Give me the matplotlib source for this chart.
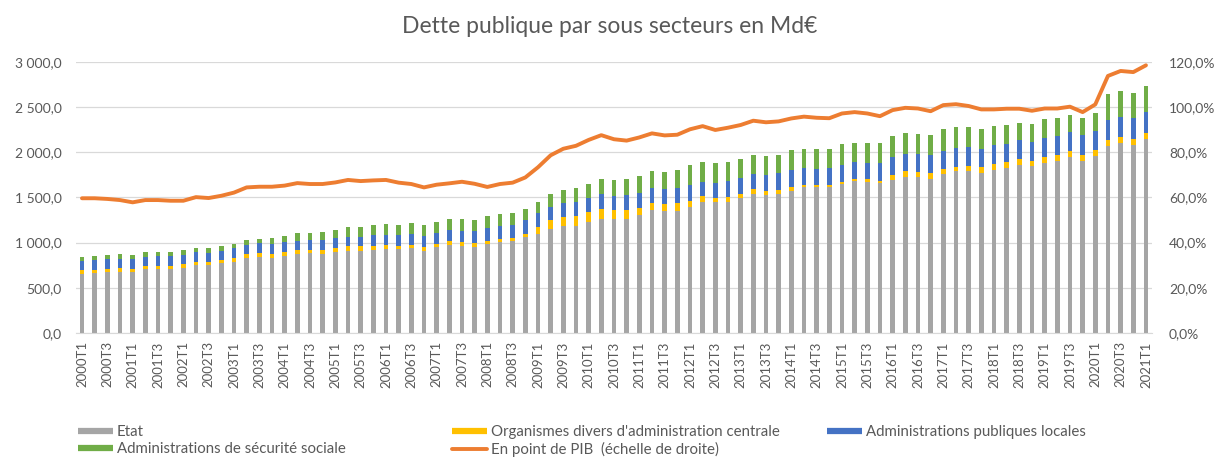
import numpy as np
import matplotlib
matplotlib.use("Agg")
import matplotlib.pyplot as plt
from matplotlib.lines import Line2D
from matplotlib.ticker import FuncFormatter

plt.rcParams['font.family'] = ['Lato', 'DejaVu Sans']

# Trimestres 2000T1 -> 2021T1
trimestres = [f"{a}T{q}" for a in range(2000, 2022) for q in range(1, 5)][:85]

# Dette en Md€ par sous secteur (lecture du graphique)
etat = [656, 664, 678, 678, 678, 704, 704, 704, 723, 752,
        752, 771, 789, 826, 837, 826, 855, 874, 885, 877,
        892, 911, 911, 922, 929, 929, 940, 907, 948, 973,
        966, 948, 984, 1003, 1014, 1058, 1099, 1150, 1184, 1184,
        1228, 1265, 1257, 1257, 1305, 1361, 1349, 1349, 1397, 1453,
        1445, 1453, 1493, 1537, 1526, 1537, 1574, 1615, 1615, 1616,
        1652, 1685, 1674, 1663, 1696, 1722, 1722, 1703, 1759, 1788,
        1788, 1770, 1807, 1825, 1862, 1844, 1881, 1907, 1947, 1907,
        1955, 2069, 2106, 2084, 2150]
odac = [41, 37, 34, 39, 34, 37, 42, 42, 37, 37,
        34, 37, 42, 46, 44, 46, 46, 42, 36, 42,
        46, 46, 46, 36, 40, 35, 34, 40, 37, 40,
        38, 46, 37, 37, 38, 41, 74, 103, 103, 112,
        113, 110, 104, 103, 82, 77, 78, 86, 67, 59,
        53, 54, 46, 50, 42, 44, 43, 27, 22, 18,
        21, 19, 28, 19, 55, 66, 56, 62, 56, 53,
        62, 63, 66, 63, 57, 63, 66, 60, 66, 66,
        66, 63, 63, 66, 64]
apul = [100, 106, 109, 104, 106, 104, 107, 107, 107, 104,
        104, 104, 106, 105, 110, 115, 106, 106, 112, 111,
        113, 109, 110, 121, 118, 117, 116, 130, 125, 123,
        126, 138, 142, 138, 143, 152, 150, 145, 146, 157,
        156, 164, 154, 161, 164, 160, 161, 168, 168, 161,
        158, 172, 178, 170, 180, 183, 186, 181, 179, 188,
        188, 187, 180, 198, 199, 190, 199, 200, 202, 203,
        203, 201, 206, 201, 210, 210, 205, 207, 205, 216,
        218, 218, 219, 228, 233]
asso = [48, 45, 45, 50, 45, 48, 48, 48, 46, 51,
        51, 49, 49, 55, 53, 62, 64, 86, 78, 91,
        93, 101, 109, 113, 117, 112, 123, 116, 119, 128,
        134, 114, 132, 139, 137, 117, 129, 140, 144, 150,
        155, 169, 176, 178, 190, 194, 195, 197, 222, 220,
        222, 208, 207, 213, 210, 205, 217, 215, 219, 214,
        231, 215, 224, 225, 229, 232, 226, 226, 238, 233,
        224, 225, 206, 216, 198, 198, 210, 198, 197, 188,
        196, 294, 285, 272, 287]
# Dette en point de PIB (%)
pib = [59.6, 59.6, 59.3, 58.8, 57.8, 58.8, 58.8, 58.5, 58.5, 60.1,
       59.7, 60.7, 62.1, 64.4, 64.7, 64.7, 65.2, 66.3, 65.9, 65.9,
       66.6, 67.7, 67.2, 67.5, 67.7, 66.5, 65.9, 64.4, 65.6, 66.2,
       66.9, 66.0, 64.6, 65.9, 66.5, 68.8, 73.3, 78.6, 81.5, 82.8,
       85.4, 87.5, 85.7, 85.1, 86.5, 88.3, 87.4, 87.7, 90.1, 91.5,
       89.8, 90.8, 92.0, 93.9, 93.2, 93.6, 94.9, 95.7, 95.2, 95.0,
       97.1, 97.7, 97.1, 95.9, 98.6, 99.6, 99.3, 98.1, 100.8, 101.2,
       100.4, 98.9, 98.9, 99.2, 99.2, 98.3, 99.3, 99.3, 100.1, 97.7,
       101.1, 113.7, 115.9, 115.4, 118.4]

c_etat = '#A5A5A5'
c_odac = '#FFC000'
c_apul = '#4472C4'
c_asso = '#70AD47'
c_pib = '#ED7D31'
c_txt = '#595959'
c_grid = '#D9D9D9'

fig = plt.figure(figsize=(12.2, 4.57), dpi=100)
ax = fig.add_axes([0.062, 0.2713, 0.8825, 0.5937])

x = np.arange(len(trimestres))
w = 0.37
etat = np.array(etat)
odac = np.array(odac)
apul = np.array(apul)
asso = np.array(asso)
ax.bar(x, etat, w, color=c_etat, zorder=2)
ax.bar(x, odac, w, bottom=etat, color=c_odac, zorder=2)
ax.bar(x, apul, w, bottom=etat + odac, color=c_apul, zorder=2)
ax.bar(x, asso, w, bottom=etat + odac + apul, color=c_asso, zorder=2)

ax.set_xlim(-0.5, len(x) - 0.5)
ax.set_ylim(0, 3000)
ax.set_yticks(np.arange(0, 3001, 500))
ax.yaxis.set_major_formatter(FuncFormatter(
    lambda v, p: f"{v:,.1f}".replace(',', ' ').replace('.', ',')))
ax.grid(axis='y', color=c_grid, lw=0.9, zorder=0)
ax.set_xticks(x[::2])
ax.set_xticklabels(trimestres[::2], rotation=90, fontsize=9.5, color=c_txt)
ax.tick_params(axis='x', length=0, pad=6)
ax.tick_params(axis='y', length=0, pad=10, labelsize=10, labelcolor=c_txt)
for s in ['top', 'left', 'right']:
    ax.spines[s].set_visible(False)
ax.spines['bottom'].set_color(c_grid)

ax2 = ax.twinx()
ax2.plot(x, pib, color=c_pib, lw=2.8, solid_capstyle='round', zorder=3)
ax2.set_ylim(0, 120)
ax2.set_yticks(np.arange(0, 121, 20))
ax2.yaxis.set_major_formatter(FuncFormatter(lambda v, p: f"{v:.1f}%".replace('.', ',')))
ax2.tick_params(axis='y', length=0, pad=12, labelsize=10, labelcolor=c_txt)
for s in ['top', 'left', 'right', 'bottom']:
    ax2.spines[s].set_visible(False)

fig.text(0.5, 0.943, "Dette publique par sous secteurs en Md€", ha='center', va='center',
         fontsize=16.5, color=c_txt)

# legende en colonnes
def col(handles, labels, x0):
    fig.legend(handles, labels, loc='upper left', bbox_to_anchor=(x0 / 1220, 1 - 425 / 457),
               frameon=False, fontsize=10.8, labelcolor=c_txt, borderpad=0, borderaxespad=0,
               handlelength=2.3, handletextpad=0.3, labelspacing=0.2)

h_etat = Line2D([], [], color=c_etat, lw=4.5, solid_capstyle='butt')
h_odac = Line2D([], [], color=c_odac, lw=4.5, solid_capstyle='butt')
h_apul = Line2D([], [], color=c_apul, lw=4.5, solid_capstyle='butt')
h_asso = Line2D([], [], color=c_asso, lw=4.5, solid_capstyle='butt')
h_pib = Line2D([], [], color=c_pib, lw=2.8, solid_capstyle='round')
col([h_etat, h_asso], ["Etat", "Administrations de sécurité sociale"], 78)
col([h_odac, h_pib], ["Organismes divers d'administration centrale", "En point de PIB  (échelle de droite)"], 452)
col([h_apul], ["Administrations publiques locales"], 827)

fig.savefig("out.png", dpi=100)
